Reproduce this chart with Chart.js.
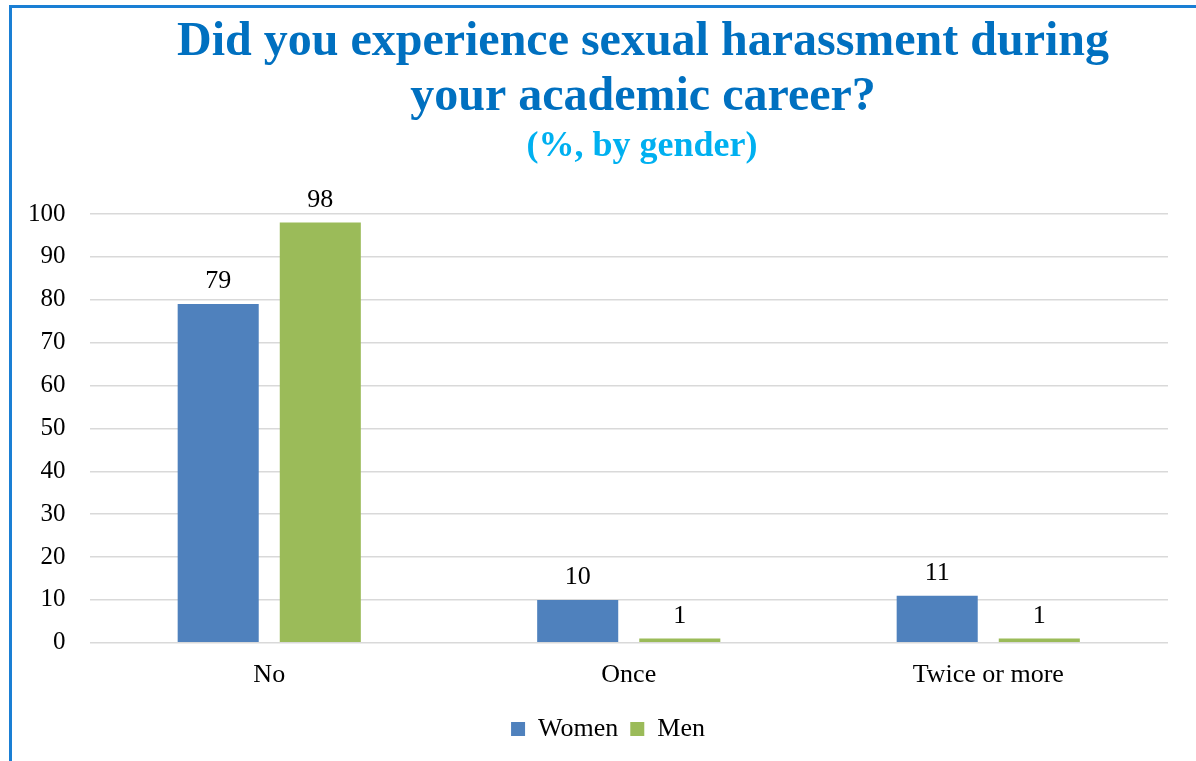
<!DOCTYPE html>
<html>
<head>
<meta charset="utf-8">
<script src="https://cdn.jsdelivr.net/npm/chart.js@4.4.1/dist/chart.umd.min.js"></script>
<style>
  html, body { margin: 0; padding: 0; background: #ffffff; overflow: hidden; }
  #frame { position: absolute; left: 9px; top: 5px; width: 1300px; height: 900px; border: 3px solid #1a7fd4; box-sizing: border-box; }
  #wrap { position: absolute; left: 0; top: 0; width: 1196px; height: 761px; }
</style>
</head>
<body>
<div id="frame"></div>
<div id="wrap"><canvas id="c" width="1196" height="761"></canvas></div>
<script>
const categories = ['No', 'Once', 'Twice or more'];
const women = [79, 10, 11];
const men = [98, 1, 1];
const seriesNames = ['Women', 'Men'];
const titleLines = ['Did you experience sexual harassment during', 'your academic career?'];
const subtitleText = '(%, by gender)';

const SERIF = "'Liberation Serif', 'Times New Roman', serif";

const titlePlugin = {
  id: 'customTitle',
  afterDraw(chart) {
    const ctx = chart.ctx;
    ctx.save();
    ctx.textAlign = 'center';
    ctx.textBaseline = 'alphabetic';
    ctx.fillStyle = '#0070c0';
    ctx.font = 'bold 48px ' + SERIF;
    ctx.fillText(titleLines[0], 643, 55);
    ctx.fillText(titleLines[1], 643, 110);
    ctx.fillStyle = '#00b0f0';
    ctx.font = 'bold 36px ' + SERIF;
    ctx.fillText(subtitleText, 642, 156);
    ctx.restore();
  }
};

const legendShift = {
  id: 'legendShift',
  afterLayout(chart) {
    const l = chart.legend;
    if (l) { l.left += 22; l.right += 22; l.top += 3; l.bottom += 3; }
  }
};

const labelPlugin = {
  id: 'valueLabels',
  afterDatasetsDraw(chart) {
    const ctx = chart.ctx;
    ctx.save();
    ctx.font = '26px ' + SERIF;
    ctx.fillStyle = '#000000';
    ctx.textAlign = 'center';
    ctx.textBaseline = 'alphabetic';
    chart.data.datasets.forEach((ds, i) => {
      const meta = chart.getDatasetMeta(i);
      meta.data.forEach((bar, j) => {
        ctx.fillText(String(ds.data[j]), bar.x, bar.y - 16);
      });
    });
    ctx.restore();
  }
};

new Chart(document.getElementById('c'), {
  type: 'bar',
  data: {
    labels: categories,
    datasets: [
      { label: seriesNames[0], data: women, backgroundColor: '#4f81bd' },
      { label: seriesNames[1], data: men, backgroundColor: '#9bbb59' }
    ]
  },
  options: {
    responsive: false,
    animation: false,
    layout: { padding: { top: 214, right: 28, left: 4, bottom: 12 } },
    datasets: { bar: { categoryPercentage: 0.568, barPercentage: 0.794 } },
    plugins: {
      title: { display: false },
      tooltip: { enabled: false },
      legend: {
        position: 'bottom',
        labels: {
          font: { family: SERIF, size: 26 },
          color: '#000000',
          boxWidth: 14,
          boxHeight: 14,
          padding: 12
        }
      }
    },
    scales: {
      x: {
        grid: { display: false, drawTicks: false },
        border: { display: false },
        ticks: { font: { family: SERIF, size: 26 }, color: '#000000', padding: 17 },
        afterFit(scale) { scale.height -= 7; }
      },
      y: {
        min: 0, max: 100,
        grid: { color: '#d9d9d9', lineWidth: 1.5, drawTicks: false },
        border: { display: false },
        ticks: { stepSize: 10, font: { family: SERIF, size: 25 }, color: '#000000', padding: 24 }
      }
    }
  },
  plugins: [titlePlugin, labelPlugin, legendShift]
});
</script>
</body>
</html>
